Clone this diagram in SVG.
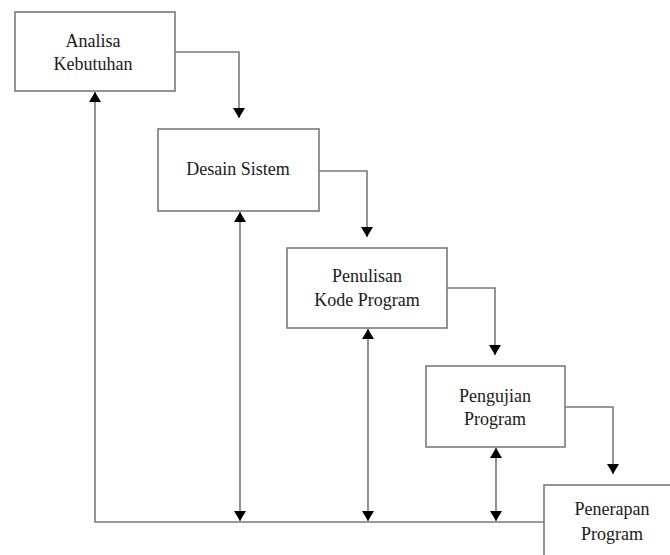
<svg xmlns="http://www.w3.org/2000/svg" width="670" height="555" viewBox="0 0 670 555">
<defs>
<marker id="ah" viewBox="0 0 10 12" refX="10" refY="6" markerWidth="11" markerHeight="12" markerUnits="userSpaceOnUse" orient="auto-start-reverse">
<path d="M0,0 L10,6 L0,12 Z" fill="#000"/>
</marker>
<style>
.box{fill:#fff;stroke:#7a7a7a;stroke-width:1.6}
.lbl{font-family:"Liberation Serif","Times New Roman",serif;font-size:18px;fill:#1a1a1a;text-anchor:middle}
.ln{fill:none;stroke:#7a7a7a;stroke-width:1.6}
.la{fill:none;stroke:#555;stroke-width:1.3}
</style>
</defs>
<rect width="670" height="555" fill="#fff"/>
<g id="connectors">
<path class="ln" d="M175,52 H239 V118" marker-end="url(#ah)"/>
<path class="ln" d="M319,171 H367 V237" marker-end="url(#ah)"/>
<path class="ln" d="M447,288 H495 V355" marker-end="url(#ah)"/>
<path class="ln" d="M565,407 H613 V474" marker-end="url(#ah)"/>
<path class="ln" d="M544,522 H95 V92" marker-end="url(#ah)"/>
<path class="la" d="M240,212 V521" marker-start="url(#ah)" marker-end="url(#ah)"/>
<path class="la" d="M368,329 V521" marker-start="url(#ah)" marker-end="url(#ah)"/>
<path class="la" d="M496,448 V521" marker-start="url(#ah)" marker-end="url(#ah)"/>
</g>
<g id="analisa">
<rect class="box" x="15" y="12" width="160" height="79"/>
<text class="lbl" x="93" y="47">Analisa</text>
<text class="lbl" x="93" y="70">Kebutuhan</text>
</g>
<g id="desain">
<rect class="box" x="158" y="129" width="161" height="82"/>
<text class="lbl" x="238" y="175">Desain Sistem</text>
</g>
<g id="penulisan">
<rect class="box" x="287" y="248" width="160" height="80"/>
<text class="lbl" x="367" y="282">Penulisan</text>
<text class="lbl" x="367" y="306">Kode Program</text>
</g>
<g id="pengujian">
<rect class="box" x="426" y="366" width="139" height="81"/>
<text class="lbl" x="495" y="402">Pengujian</text>
<text class="lbl" x="495" y="425">Program</text>
</g>
<g id="penerapan">
<rect class="box" x="544" y="485" width="140" height="90"/>
<text class="lbl" x="612" y="515">Penerapan</text>
<text class="lbl" x="612" y="540">Program</text>
</g>
</svg>
